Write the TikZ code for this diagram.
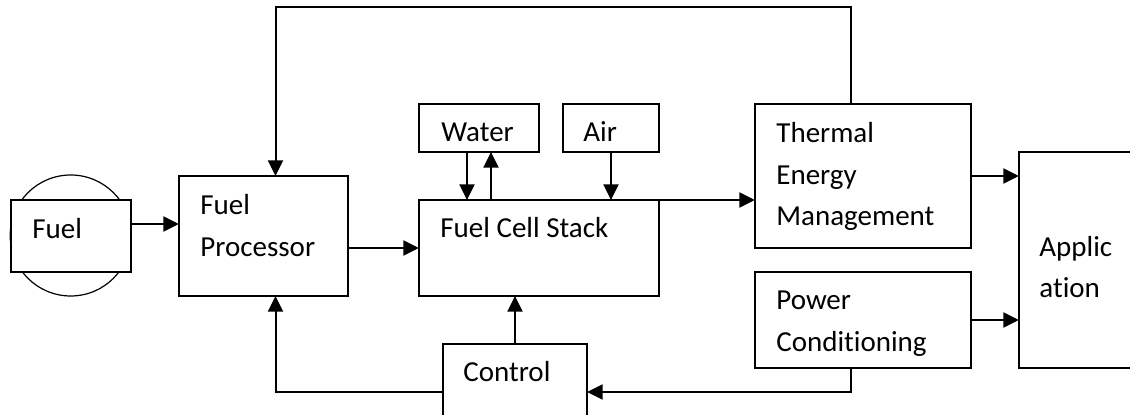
\documentclass[tikz,border=0pt]{standalone}
\usepackage{fontspec}
\setmainfont{Carlito}[Ligatures=NoCommon]
\usepackage{tikz}
\usetikzlibrary{positioning,arrows.meta,calc}
\tikzset{
  blk/.style={rectangle,draw=black,fill=white,line width=1pt,inner sep=0pt,outer sep=0pt},
  txt/.style={anchor=base west,align=left,inner sep=0pt,font=\fontsize{14.5}{20.75}\selectfont},
  ar/.style={-{Triangle[length=7.8pt,width=7.5pt]},line width=1pt,draw=black},
}
\begin{document}
\begin{tikzpicture}[x=0.5pt,y=-0.5pt]
  \useasboundingbox (0,0) rectangle (1130,415);
  \draw[line width=0.6pt] (70.7,235.5) circle[radius=60.5];
  \node[blk,minimum width=60pt,minimum height=36pt] (fuel) at (71,236) {};
  \node[blk,minimum width=84.5pt,minimum height=60pt] (fp) at (263.5,236) {};
  \node[blk,minimum width=120pt,minimum height=48pt] (fcs) at (539,248) {};
  \node[blk,minimum width=60pt,minimum height=24pt] (water) at (479,128) {};
  \node[blk,minimum width=48pt,minimum height=24pt] (air) at (611,128) {};
  \node[blk,minimum width=108pt,minimum height=72pt] (tem) at (863,176) {};
  \node[blk,minimum width=108pt,minimum height=48pt] (pc) at (863,320) {};
  \node[blk,minimum width=72pt,minimum height=108pt] (app) at (1091,260) {};
  \node[blk,minimum width=72pt,minimum height=48pt] (ctrl) at (515,392) {};
  % labels (base = last line)
  \node[txt] (fuellbl) at ($(fuel.north west)+(21,39)$) {Fuel};
  \node[txt] (fplbl) at ($(fp.north west)+(21,80.5)$) {Fuel\\Processor};
  \node[txt] (fcslbl) at ($(fcs.north west)+(21,38)$) {Fuel Cell Stack};
  \node[txt] (waterlbl) at ($(water.north west)+(22,38)$) {Water};
  \node[txt] (airlbl) at ($(air.north west)+(20,38)$) {Air};
  \node[txt] (temlbl) at ($(tem.north west)+(21,122)$) {Thermal\\Energy\\Management};
  \node[txt] (pclbl) at ($(pc.north west)+(21,79.5)$) {Power\\Conditioning};
  \node[txt] (applbl) at ($(app.north west)+(20,146)$) {Applic\\ation};
  \node[txt] (ctrllbl) at ($(ctrl.north west)+(20,38)$) {Control};
  % connectors
  \draw[ar] ([yshift=6pt]fuel.east) -- ([yshift=6pt]fuel.east -| fp.west);
  \draw[ar] (fp.east |- fcs.west) -- (fcs.west);
  \draw[ar] ([xshift=-6pt]water.south) -- ([xshift=-6pt]water.south |- fcs.north);
  \draw[ar] ([xshift=6pt]water.south |- fcs.north) -- ([xshift=6pt]water.south);
  \draw[ar] (air.south) -- (air.south |- fcs.north);
  \draw[ar] (fcs.north east) -- (fcs.north east -| tem.west);
  \draw[ar] (tem.east) -- (tem.east -| app.west);
  \draw[ar] (pc.east) -- (pc.east -| app.west);
  \draw[ar] (ctrl.north) -- (ctrl.north |- fcs.south);
  \draw[ar] (ctrl.west) -| ([xshift=6pt]fp.south);
  \draw[ar] ([xshift=-6pt]pc.south) |- (ctrl.east);
  \draw[ar] ([xshift=-6pt]tem.north) -- ++(0,-97) -| ([xshift=6pt]fp.north);
\end{tikzpicture}
\end{document}
